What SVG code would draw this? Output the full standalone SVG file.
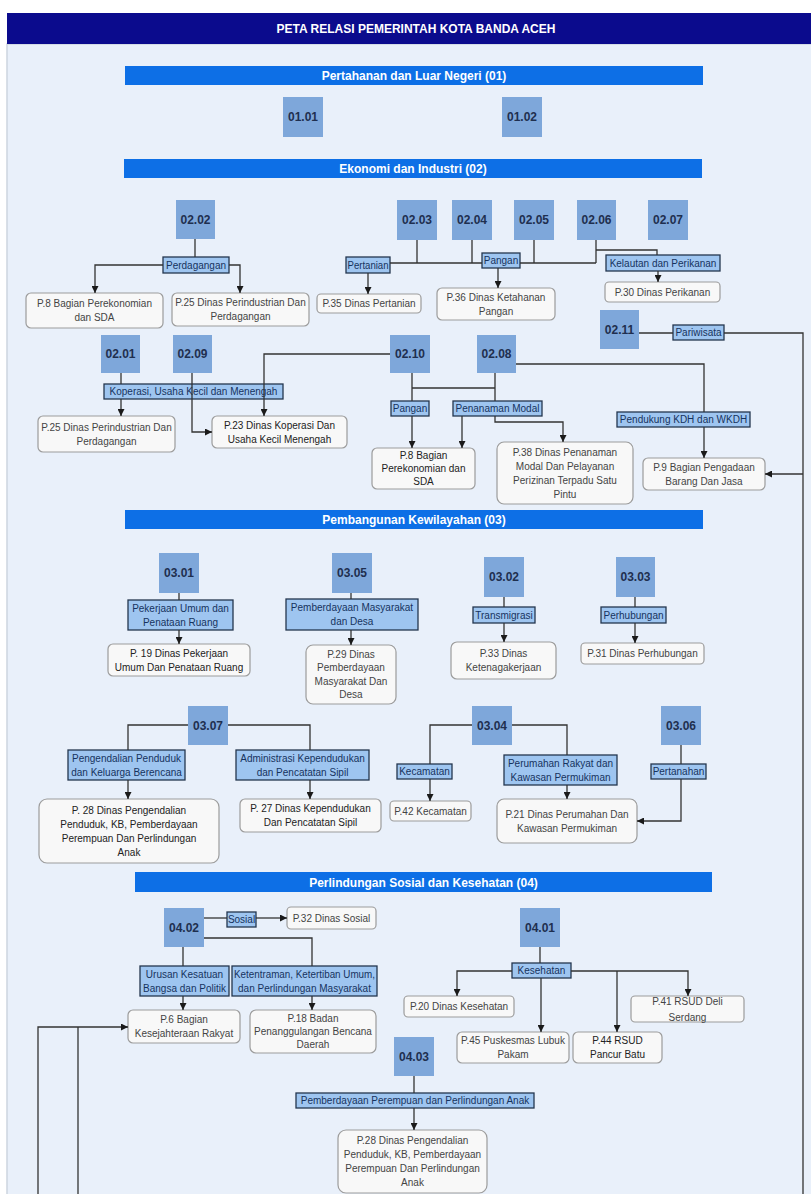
<svg xmlns="http://www.w3.org/2000/svg" width="811" height="1194" viewBox="0 0 811 1194">
<defs>
<marker id="arr" markerWidth="7" markerHeight="7" refX="7" refY="3.5" orient="auto" markerUnits="userSpaceOnUse"><path d="M0,0 L7,3.5 L0,7 z" fill="#1a1a1a"/></marker>
<style>
text{font-family:"Liberation Sans",Arial,sans-serif;text-anchor:middle}
.title{font-size:12px;font-weight:bold;fill:#ffffff}
.sec rect{fill:#0d6fe6}
.sec text{font-size:12px;font-weight:bold;fill:#ffffff}
.code rect{fill:#7ea7da}
.code text{font-size:12px;font-weight:bold;fill:#1f2f4f}
.lbl rect{fill:#9ec5f0;stroke:#24364f;stroke-width:1.3}
.lbl text{font-size:10px;fill:#16335e}
.tgt rect{fill:#f8f8f8;stroke:#9c9c9c;stroke-width:1.2}
.tgt text{font-size:10px;fill:#444}
.tgt.dk text{fill:#222}
#connectors path{fill:none;stroke:#333;stroke-width:1.3}
#connectors path.a{marker-end:url(#arr)}
</style>
</defs>
<rect x="0" y="0" width="811" height="1194" fill="#ffffff"/>
<rect x="7" y="44" width="806" height="1152" fill="#e9f0fa" stroke="#cdd5e0" stroke-width="1.5"/>
<g id="title"><rect x="7" y="13" width="804" height="31" fill="#0b0b8d"/><text class="title" x="416" y="32.5">PETA RELASI PEMERINTAH KOTA BANDA ACEH</text></g>

<g id="sec01" class="sec"><rect x="125" y="66" width="578" height="19"/><text x="414" y="80">Pertahanan dan Luar Negeri (01)</text></g>
<g id="sec02" class="sec"><rect x="124" y="159" width="578" height="19"/><text x="413" y="173">Ekonomi dan Industri (02)</text></g>
<g id="sec03" class="sec"><rect x="125" y="510" width="578" height="19"/><text x="414" y="524">Pembangunan Kewilayahan (03)</text></g>
<g id="sec04" class="sec"><rect x="135" y="872" width="577" height="20"/><text x="423.5" y="886.5">Perlindungan Sosial dan Kesehatan (04)</text></g>

<g id="c0101" class="code"><rect x="283" y="97" width="40" height="40"/><text x="303" y="121.3">01.01</text></g>
<g id="c0102" class="code"><rect x="502" y="97" width="40" height="40"/><text x="522" y="121.3">01.02</text></g>
<g id="c0202" class="code"><rect x="176" y="200" width="39" height="39"/><text x="195.5" y="223.8">02.02</text></g>
<g id="c0203" class="code"><rect x="397" y="200" width="40" height="40"/><text x="417" y="224.3">02.03</text></g>
<g id="c0204" class="code"><rect x="452" y="200" width="40" height="40"/><text x="472" y="224.3">02.04</text></g>
<g id="c0205" class="code"><rect x="514" y="200" width="40" height="40"/><text x="534" y="224.3">02.05</text></g>
<g id="c0206" class="code"><rect x="577" y="200" width="39" height="40"/><text x="596.5" y="224.3">02.06</text></g>
<g id="c0207" class="code"><rect x="648" y="200" width="40" height="40"/><text x="668" y="224.3">02.07</text></g>
<g id="c0201" class="code"><rect x="101" y="335" width="39" height="38"/><text x="120.5" y="358.3">02.01</text></g>
<g id="c0209" class="code"><rect x="173" y="335" width="39" height="38"/><text x="192.5" y="358.3">02.09</text></g>
<g id="c0210" class="code"><rect x="390" y="335" width="40" height="38"/><text x="410" y="358.3">02.10</text></g>
<g id="c0208" class="code"><rect x="477" y="335" width="39" height="38"/><text x="496.5" y="358.3">02.08</text></g>
<g id="c0211" class="code"><rect x="600" y="310" width="39" height="39"/><text x="619.5" y="333.8">02.11</text></g>
<g id="c0301" class="code"><rect x="159" y="553" width="40" height="40"/><text x="179" y="577.3">03.01</text></g>
<g id="c0305" class="code"><rect x="332" y="553" width="40" height="40"/><text x="352" y="577.3">03.05</text></g>
<g id="c0302" class="code"><rect x="484" y="557" width="40" height="40"/><text x="504" y="581.3">03.02</text></g>
<g id="c0303" class="code"><rect x="616" y="557" width="39" height="40"/><text x="635.5" y="581.3">03.03</text></g>
<g id="c0307" class="code"><rect x="188" y="706" width="40" height="39"/><text x="208" y="729.8">03.07</text></g>
<g id="c0304" class="code"><rect x="472" y="706" width="40" height="39"/><text x="492" y="729.8">03.04</text></g>
<g id="c0306" class="code"><rect x="661" y="706" width="40" height="39"/><text x="681" y="729.8">03.06</text></g>
<g id="c0402" class="code"><rect x="164" y="908" width="40" height="39"/><text x="184" y="931.8">04.02</text></g>
<g id="c0401" class="code"><rect x="520" y="908" width="40" height="39"/><text x="540" y="931.8">04.01</text></g>
<g id="c0403" class="code"><rect x="394" y="1037" width="40" height="39"/><text x="414" y="1060.8">04.03</text></g>

<g id="l_perdagangan" class="lbl"><rect x="163" y="257" width="66" height="16"/><text x="196" y="268.5">Perdagangan</text></g>
<g id="l_pertanian" class="lbl"><rect x="346" y="257" width="44" height="16"/><text x="368" y="268.5" textLength="41" lengthAdjust="spacingAndGlyphs">Pertanian</text></g>
<g id="l_pangan1" class="lbl"><rect x="482" y="253" width="38" height="15"/><text x="501" y="264">Pangan</text></g>
<g id="l_kelautan" class="lbl"><rect x="606" y="255" width="114" height="16"/><text x="663" y="266.5">Kelautan dan Perikanan</text></g>
<g id="l_koperasi" class="lbl"><rect x="104" y="384" width="179" height="15"/><text x="193.5" y="395">Koperasi, Usaha Kecil dan Menengah</text></g>
<g id="l_pangan2" class="lbl"><rect x="391" y="401" width="38" height="15"/><text x="410" y="412">Pangan</text></g>
<g id="l_penanaman" class="lbl"><rect x="453" y="401" width="89" height="15"/><text x="497.5" y="412">Penanaman Modal</text></g>
<g id="l_pendukung" class="lbl"><rect x="617" y="412" width="133" height="15"/><text x="683.5" y="423">Pendukung KDH dan WKDH</text></g>
<g id="l_pariwisata" class="lbl"><rect x="673" y="325" width="51" height="15"/><text x="698.5" y="336">Pariwisata</text></g>
<g id="l_pu" class="lbl"><rect x="128" y="600" width="105" height="30"/><text x="180.5" y="611.5">Pekerjaan Umum dan</text><text x="180.5" y="625.5">Penataan Ruang</text></g>
<g id="l_pmd" class="lbl"><rect x="286" y="599" width="132" height="31"/><text x="352" y="611">Pemberdayaan Masyarakat</text><text x="352" y="625">dan Desa</text></g>
<g id="l_transmigrasi" class="lbl"><rect x="473" y="607" width="62" height="16"/><text x="504" y="618.5">Transmigrasi</text></g>
<g id="l_perhubungan" class="lbl"><rect x="601" y="607" width="65" height="16"/><text x="633.5" y="618.5">Perhubungan</text></g>
<g id="l_ppkb" class="lbl"><rect x="68" y="750" width="117" height="30"/><text x="126.5" y="761.5">Pengendalian Penduduk</text><text x="126.5" y="775.5">dan Keluarga Berencana</text></g>
<g id="l_adminduk" class="lbl"><rect x="236" y="750" width="133" height="30"/><text x="302.5" y="761.5">Administrasi Kependudukan</text><text x="302.5" y="775.5">dan Pencatatan Sipil</text></g>
<g id="l_kecamatan" class="lbl"><rect x="397" y="764" width="55" height="15"/><text x="424.5" y="775">Kecamatan</text></g>
<g id="l_perumahan" class="lbl"><rect x="504" y="755" width="113" height="30"/><text x="560.5" y="766.5">Perumahan Rakyat dan</text><text x="560.5" y="780.5">Kawasan Permukiman</text></g>
<g id="l_pertanahan" class="lbl"><rect x="651" y="764" width="55" height="15"/><text x="678.5" y="775">Pertanahan</text></g>
<g id="l_sosial" class="lbl"><rect x="227" y="912" width="29" height="15"/><text x="241.5" y="923">Sosial</text></g>
<g id="l_kesbang" class="lbl"><rect x="140" y="966" width="89" height="30"/><text x="184.5" y="977.5">Urusan Kesatuan</text><text x="184.5" y="991.5">Bangsa dan Politik</text></g>
<g id="l_trantib" class="lbl"><rect x="232" y="966" width="145" height="30"/><text x="304.5" y="977.5" textLength="141" lengthAdjust="spacingAndGlyphs">Ketentraman, Ketertiban Umum,</text><text x="304.5" y="991.5">dan Perlindungan Masyarakat</text></g>
<g id="l_kesehatan" class="lbl"><rect x="512" y="963" width="59" height="15"/><text x="541.5" y="974">Kesehatan</text></g>
<g id="l_pppa" class="lbl"><rect x="296" y="1093" width="238" height="15"/><text x="415" y="1104">Pemberdayaan Perempuan dan Perlindungan Anak</text></g>

<g id="t_p8a" class="tgt"><rect x="26" y="293" width="137" height="35" rx="5"/><text x="94.5" y="307">P.8 Bagian Perekonomian</text><text x="94.5" y="321">dan SDA</text></g>
<g id="t_p25a" class="tgt"><rect x="172" y="293" width="137" height="33" rx="5"/><text x="240.5" y="306">P.25 Dinas Perindustrian Dan</text><text x="240.5" y="320">Perdagangan</text></g>
<g id="t_p35" class="tgt"><rect x="317" y="294" width="104" height="19" rx="4"/><text x="369" y="307">P.35  Dinas Pertanian</text></g>
<g id="t_p36" class="tgt"><rect x="437" y="288" width="118" height="32" rx="5"/><text x="496" y="300.5">P.36  Dinas Ketahanan</text><text x="496" y="314.5">Pangan</text></g>
<g id="t_p30" class="tgt"><rect x="605" y="282" width="115" height="20" rx="4"/><text x="662.5" y="295.5">P.30  Dinas Perikanan</text></g>
<g id="t_p25b" class="tgt"><rect x="38" y="416" width="137" height="36" rx="5"/><text x="106.5" y="430.5">P.25 Dinas Perindustrian Dan</text><text x="106.5" y="444.5">Perdagangan</text></g>
<g id="t_p23" class="tgt dk"><rect x="212" y="416" width="135" height="32" rx="5"/><text x="279.5" y="428.5">P.23 Dinas Koperasi Dan</text><text x="279.5" y="442.5">Usaha Kecil Menengah</text></g>
<g id="t_p8b" class="tgt dk"><rect x="372" y="448" width="103" height="41" rx="5"/><text x="423.5" y="459">P.8 Bagian</text><text x="423.5" y="472">Perekonomian dan</text><text x="423.5" y="485">SDA</text></g>
<g id="t_p38" class="tgt"><rect x="497" y="442" width="136" height="62" rx="7"/><text x="565" y="455.5">P.38 Dinas Penanaman</text><text x="565" y="469.5">Modal Dan Pelayanan</text><text x="565" y="483.5">Perizinan Terpadu Satu</text><text x="565" y="497.5">Pintu</text></g>
<g id="t_p9" class="tgt"><rect x="643" y="458" width="122" height="32" rx="5"/><text x="704" y="470.5">P.9 Bagian Pengadaan</text><text x="704" y="484.5">Barang Dan Jasa</text></g>
<g id="t_p19" class="tgt dk"><rect x="108" y="644" width="142" height="32" rx="5"/><text x="179" y="656.5">P. 19 Dinas Pekerjaan</text><text x="179" y="670.5">Umum Dan Penataan Ruang</text></g>
<g id="t_p29" class="tgt"><rect x="306" y="645" width="90" height="59" rx="7"/><text x="351" y="657.8">P.29  Dinas</text><text x="351" y="671.3">Pemberdayaan</text><text x="351" y="684.8">Masyarakat Dan</text><text x="351" y="698.3">Desa</text></g>
<g id="t_p33" class="tgt"><rect x="451" y="642" width="105" height="37" rx="6"/><text x="503.5" y="657">P.33  Dinas</text><text x="503.5" y="671">Ketenagakerjaan</text></g>
<g id="t_p31" class="tgt"><rect x="581" y="643" width="123" height="21" rx="4"/><text x="642.5" y="657">P.31  Dinas Perhubungan</text></g>
<g id="t_p28a" class="tgt dk"><rect x="39" y="799" width="180" height="64" rx="8"/><text x="129" y="813.5">P. 28 Dinas Pengendalian</text><text x="129" y="827.5">Penduduk, KB, Pemberdayaan</text><text x="129" y="841.5">Perempuan Dan Perlindungan</text><text x="129" y="855.5">Anak</text></g>
<g id="t_p27" class="tgt dk"><rect x="240" y="799" width="141" height="33" rx="5"/><text x="310.5" y="812">P. 27 Dinas Kependudukan</text><text x="310.5" y="826">Dan Pencatatan Sipil</text></g>
<g id="t_p42" class="tgt"><rect x="390" y="801" width="81" height="20" rx="4"/><text x="430.5" y="814.5">P.42  Kecamatan</text></g>
<g id="t_p21" class="tgt"><rect x="497" y="799" width="140" height="44" rx="7"/><text x="567" y="817.5">P.21  Dinas Perumahan Dan</text><text x="567" y="831.5">Kawasan Permukiman</text></g>
<g id="t_p32" class="tgt"><rect x="287" y="907" width="89" height="22" rx="4"/><text x="331.5" y="921.5">P.32 Dinas Sosial</text></g>
<g id="t_p6" class="tgt"><rect x="128" y="1010" width="112" height="33" rx="5"/><text x="184" y="1023">P.6 Bagian</text><text x="184" y="1037">Kesejahteraan Rakyat</text></g>
<g id="t_p18" class="tgt"><rect x="250" y="1010" width="126" height="43" rx="6"/><text x="313" y="1022">P.18 Badan</text><text x="313" y="1035">Penanggulangan Bencana</text><text x="313" y="1048">Daerah</text></g>
<g id="t_p20" class="tgt"><rect x="404" y="996" width="110" height="21" rx="4"/><text x="459" y="1010">P.20 Dinas Kesehatan</text></g>
<g id="t_p41" class="tgt"><rect x="631" y="996" width="113" height="26" rx="4"/><text x="687.5" y="1004.5">P.41 RSUD Deli</text><text x="687.5" y="1020.5">Serdang</text></g>
<g id="t_p45" class="tgt"><rect x="457" y="1032" width="112" height="31" rx="5"/><text x="513" y="1044">P.45 Puskesmas Lubuk</text><text x="513" y="1058">Pakam</text></g>
<g id="t_p44" class="tgt dk"><rect x="573" y="1032" width="89" height="31" rx="5"/><text x="617.5" y="1044">P.44 RSUD</text><text x="617.5" y="1058">Pancur Batu</text></g>
<g id="t_p28b" class="tgt"><rect x="338" y="1130" width="149" height="63" rx="8"/><text x="412.5" y="1144">P.28 Dinas Pengendalian</text><text x="412.5" y="1158">Penduduk, KB, Pemberdayaan</text><text x="412.5" y="1172">Perempuan Dan Perlindungan</text><text x="412.5" y="1186">Anak</text></g>

<g id="connectors">
<path d="M195,239 V257"/>
<path class="a" d="M163,265 H95 V293"/>
<path class="a" d="M229,265 H240 V293"/>
<path d="M390,263 H482 M417,240 V263 M472,240 V263 M520,263 H596 M534,240 V263 M596,240 V263"/>
<path d="M596,250 H657 V255"/>
<path class="a" d="M368,273 V294"/>
<path class="a" d="M498,268 V288"/>
<path class="a" d="M658,271 V282"/>
<path d="M121,373 V384"/>
<path class="a" d="M121,399 V416"/>
<path class="a" d="M192,373 V432 H212"/>
<path class="a" d="M390,354 H264 V416"/>
<path d="M412,373 V401 M412,388 H495 M495,373 V401"/>
<path class="a" d="M412,416 V448"/>
<path class="a" d="M462,416 V448"/>
<path class="a" d="M495,416 V422 H563 V442"/>
<path d="M516,364 H704 V412"/>
<path class="a" d="M704,427 V458"/>
<path d="M639,333 H673 M724,333 H803 V1194"/>
<path class="a" d="M803,474 H765"/>
<path d="M179,593 V600"/>
<path class="a" d="M179,630 V644"/>
<path d="M351,593 V599"/>
<path class="a" d="M351,630 V645"/>
<path d="M504,597 V607"/>
<path class="a" d="M504,623 V642"/>
<path d="M635,597 V607"/>
<path class="a" d="M635,623 V643"/>
<path d="M188,725 H128 V750"/>
<path class="a" d="M128,780 V799"/>
<path d="M228,725 H310 V750"/>
<path class="a" d="M310,780 V799"/>
<path d="M472,725 H430 V764"/>
<path class="a" d="M430,779 V801"/>
<path d="M512,725 H567 V755"/>
<path class="a" d="M567,785 V799"/>
<path d="M681,745 V764"/>
<path class="a" d="M681,779 V821 H637"/>
<path d="M204,918 H227"/>
<path class="a" d="M256,918 H287"/>
<path d="M183,947 V966"/>
<path class="a" d="M183,996 V1010"/>
<path d="M204,938 H312 V966"/>
<path class="a" d="M312,996 V1010"/>
<path d="M540,947 V963"/>
<path class="a" d="M512,971 H457 V996"/>
<path class="a" d="M541,978 V1032"/>
<path class="a" d="M571,971 H688 V996"/>
<path class="a" d="M617,971 V1032"/>
<path d="M414,1076 V1093"/>
<path class="a" d="M414,1108 V1130"/>
<path class="a" d="M38,1194 V1027 H128"/>
<path d="M78,1194 V1027"/>
</g>
</svg>
